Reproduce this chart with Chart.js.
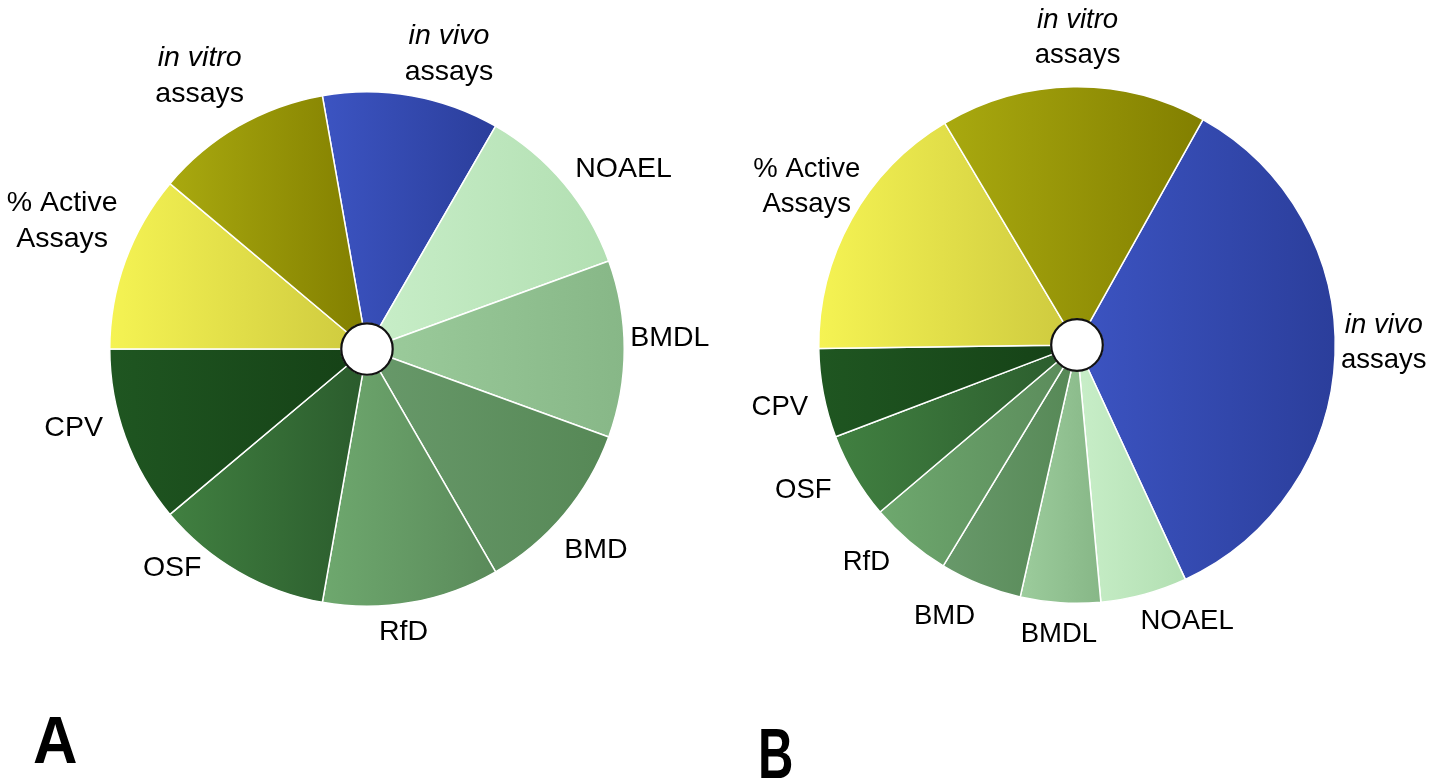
<!DOCTYPE html>
<html><head><meta charset="utf-8">
<script src="https://cdn.jsdelivr.net/npm/chart.js@4.4.1/dist/chart.umd.min.js"></script>
<style>
html,body{margin:0;padding:0;background:#fff;width:1442px;height:784px;overflow:hidden;}
.wrap{position:absolute;}
#wa{left:0;top:0;width:734px;height:700px;}
#wb{left:720px;top:0;width:722px;height:700px;}
.panel{position:absolute;font-family:"Liberation Sans",Arial,sans-serif;font-weight:bold;color:#000;transform-origin:0 0;white-space:nowrap;margin:0;}
#pa{left:33px;top:706px;font-size:67px;line-height:67px;transform:scaleX(0.92);}
#pb{left:758px;top:719px;font-size:70px;line-height:70px;transform:scaleX(0.7);}
</style></head><body>
<div id="wa" class="wrap"><canvas id="ca"></canvas></div>
<div id="wb" class="wrap"><canvas id="cb"></canvas></div>
<div class="panel" id="pa">A</div>
<div class="panel" id="pb">B</div>
<script>
// ---- data (slices listed clockwise, starting with "in vivo assays") ----
const categories = ['in vivo assays', 'NOAEL', 'BMDL', 'BMD', 'RfD', 'OSF', 'CPV', '% Active Assays', 'in vitro assays'];
const valuesA = [1, 1, 1, 1, 1, 1, 1, 1, 1];
const valuesB = [126, 19.5, 18, 18.5, 18.5, 19.5, 20, 60, 60];
const rotationA = -10;   // degrees
const rotationB = 29.2;  // degrees

// ---- styles ----
const lightColors = ['#3c54c2', '#c8eec8', '#9ccc9c', '#68996a', '#6ea86e', '#418041', '#1f5621', '#f5f353', '#a9a90f'];
const darkColors  = ['#2b3e9b', '#b2dfb2', '#87b787', '#568856', '#5a8a5a', '#2a5b2c', '#154116', '#cdc93e', '#827f00'];
const labelLines = {
  'in vivo assays': ['in vivo', 'assays'],
  'in vitro assays': ['in vitro', 'assays'],
  '% Active Assays': ['% Active', 'Assays']
};
const italicLines = ['in vivo', 'in vitro'];
const nudgeA = [[27,-1],[11,-1],[-9,-13],[-4,17],[-15,3],[-44,-28],[-10,-20],[3,-27],[-9,-15]];
const nudgeB = [[-9,-16],[27,1],[2,5],[-19,7],[-18,0],[-14,-1],[-1,7],[15,-14],[5,-9]];
const BORDER = 1.5;

function fontFor(line, fs) {
  return (italicLines.includes(line) ? 'italic ' : '') + fs + 'px "Liberation Sans", Arial, sans-serif';
}

function sliceFill(values, rotationDeg) {
  return (c) => {
    const i = c.dataIndex;
    const chart = c.chart, area = chart.chartArea;
    if (!area || i === undefined) return lightColors[i || 0];
    const total = values.reduce((s, v) => s + v, 0);
    let a = -Math.PI / 2 + rotationDeg * Math.PI / 180;
    for (let j = 0; j < i; j++) a += values[j] / total * 2 * Math.PI;
    const b = a + values[i] / total * 2 * Math.PI;
    const cx = (area.left + area.right) / 2, cy = (area.top + area.bottom) / 2;
    const R = (Math.min(area.width, area.height) - BORDER) / 2;
    let minX = cx, maxX = cx;
    for (let k = 0; k <= 24; k++) {
      const t = a + (b - a) * k / 24;
      const x = cx + R * Math.cos(t);
      minX = Math.min(minX, x); maxX = Math.max(maxX, x);
    }
    const g = chart.ctx.createLinearGradient(minX, cy, maxX + 0.01, cy);
    g.addColorStop(0, lightColors[i]);
    g.addColorStop(1, darkColors[i]);
    return g;
  };
}

const sliceLabels = {
  id: 'sliceLabels',
  afterDatasetsDraw(chart, args, opts) {
    const ctx = chart.ctx;
    const meta = chart.getDatasetMeta(0);
    const cats = chart.data.labels;
    const first = meta.data[0];
    const cx = first.x, cy = first.y, R = first.outerRadius, r = first.innerRadius;
    ctx.save();
    // centre disc
    ctx.beginPath();
    ctx.arc(cx, cy, r, 0, 2 * Math.PI);
    ctx.fillStyle = '#ffffff';
    ctx.fill();
    ctx.lineWidth = 2.2;
    ctx.strokeStyle = '#111111';
    ctx.stroke();
    // labels
    const fs = opts.fontSize, lh = opts.lineHeight;
    meta.data.forEach((arc, i) => {
      const mid = (arc.startAngle + arc.endAngle) / 2;
      const ux = Math.cos(mid), uy = Math.sin(mid);
      const lines = labelLines[cats[i]] || [cats[i]];
      let w = 0;
      lines.forEach(l => { ctx.font = fontFor(l, fs); w = Math.max(w, ctx.measureText(l).width); });
      const capH = 0.716 * fs;
      const h = capH + (lines.length - 1) * lh;
      const d = R + opts.gap;
      const n = opts.nudge[i] || [0, 0];
      const bx = cx + ux * d + ux * w / 2 + n[0];
      const by = cy + uy * d + uy * h / 2 + n[1];
      ctx.fillStyle = '#000000';
      ctx.textAlign = 'center';
      ctx.textBaseline = 'alphabetic';
      lines.forEach((l, k) => {
        ctx.font = fontFor(l, fs);
        ctx.fillText(l, bx, by - h / 2 + capH + k * lh);
      });
    });
    ctx.restore();
  }
};

function makeChart(id, values, rotation, padding, fontSize, lineHeight, nudge) {
  return new Chart(document.getElementById(id), {
    type: 'doughnut',
    data: {
      labels: categories,
      datasets: [{
        data: values,
        backgroundColor: sliceFill(values, rotation),
        borderColor: '#ffffff',
        borderWidth: BORDER
      }]
    },
    options: {
      responsive: true,
      maintainAspectRatio: false,
      devicePixelRatio: 1,
      animation: false,
      events: [],
      rotation: rotation,
      cutout: '10%',
      layout: { padding: padding },
      plugins: {
        legend: { display: false },
        tooltip: { enabled: false },
        title: { display: false },
        sliceLabels: { fontSize: fontSize, lineHeight: lineHeight, gap: 15, nudge: nudge }
      }
    },
    plugins: [sliceLabels]
  });
}

makeChart('ca', valuesA, rotationA, { left: 109, right: 109, top: 91, bottom: 93 }, 28.5, 36, nudgeA);
makeChart('cb', valuesB, rotationB, { left: 98, right: 106, top: 86, bottom: 96 }, 27.5, 35, nudgeB);
</script>
</body></html>
